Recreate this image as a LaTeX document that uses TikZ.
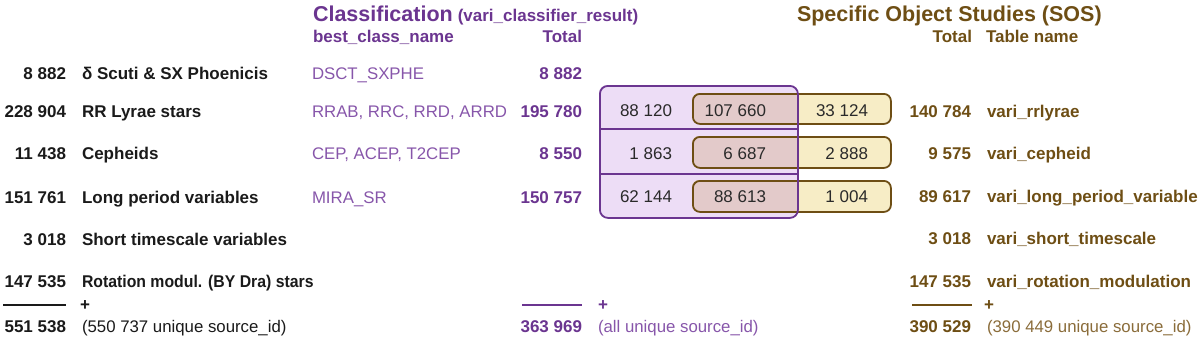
\documentclass[tikz,border=0pt]{standalone}
\usepackage{fontspec}
\usepackage{graphicx}
\setmainfont{Liberation Sans}
\definecolor{pur}{HTML}{6B3590}
\definecolor{purlt}{HTML}{8756AA}
\definecolor{brn}{HTML}{6E4E14}
\definecolor{brnlt}{HTML}{8A6C3A}
\definecolor{lav}{HTML}{EDDDF6}
\definecolor{yel}{HTML}{F7EDC6}
\definecolor{ovl}{HTML}{E3CACA}
\definecolor{ink}{HTML}{1A1A1A}
\definecolor{boxink}{HTML}{2A2A2A}
\tikzset{
  txt/.style={inner sep=0pt, outer sep=0pt, font=\fontsize{17}{20}\selectfont},
  numr/.style={txt, anchor=base east, font=\fontsize{17}{20}\selectfont\bfseries},
  labl/.style={txt, anchor=base west, font=\fontsize{17}{20}\selectfont\bfseries},
  reglabl/.style={txt, anchor=base west, font=\fontsize{16.8}{20}\selectfont},
  boxnum/.style={txt, anchor=base east, text=boxink},
  titlestyle/.style={txt, anchor=base west, font=\fontsize{21.5}{24}\selectfont\bfseries},
  sumline/.style={line width=1.6pt},
  plus/.style={txt, font=\fontsize{17}{20}\selectfont\bfseries},
  purbox/.style={draw=pur, line width=1.8pt, rounded corners=8pt},
  yelbox/.style={draw=brn, line width=1.8pt, rounded corners=7pt},
}
\begin{document}
\begin{tikzpicture}[x=1pt,y=-1pt]
\useasboundingbox (0,0) rectangle (1200,338);

% ---------- headers ----------
\node[titlestyle, text=pur] (ctitle) at (313,21) {Classification};
\node[txt, anchor=base west, text=pur, font=\fontsize{17}{20}\selectfont\bfseries] (csub) at ([xshift=5pt]ctitle.base east) {(vari\_classifier\_result)};
\node[labl, text=pur] (hbcn) at (313,42) {best\_class\_name};
\node[numr, text=pur] (hctot) at (582,42) {Total};
\node[titlestyle, text=brn] (stitle) at (797,21) {Specific Object Studies (SOS)};
\node[numr, text=brn] (hstot) at (972,42) {Total};
\node[labl, text=brn] (htab) at (986,42) {Table name};

% ---------- left column ----------
\node[numr, text=ink] (n1) at (66,79) {8 882};
\node[labl, text=ink] (l1) at (82,79) {δ Scuti \& SX Phoenicis};
\node[numr, text=ink] (n2) at (66,117) {228 904};
\node[labl, text=ink] (l2) at (82,117) {RR Lyrae stars};
\node[numr, text=ink] (n3) at (66,159) {11 438};
\node[labl, text=ink] (l3) at (82,159) {Cepheids};
\node[numr, text=ink] (n4) at (66,203) {151 761};
\node[labl, text=ink] (l4) at (82,203) {Long period variables};
\node[numr, text=ink] (n5) at (66,245) {3 018};
\node[labl, text=ink] (l5) at (82,245) {Short timescale variables};
\node[numr, text=ink] (n6) at (66,287) {147 535};
\node[labl, text=ink] (l6) at (82,287) {\scalebox{0.93}[1]{Rotation modul. (BY Dra) stars}};

% ---------- classification ----------
\node[reglabl, text=purlt] (c1) at (312,79) {DSCT\_SXPHE};
\node[numr, text=pur] (ct1) at (582,79) {8 882};
\node[reglabl, text=purlt] (c2) at (312,117) {RRAB, RRC, RRD, ARRD};
\node[numr, text=pur] (ct2) at (582,117) {195 780};
\node[reglabl, text=purlt] (c3) at (312,159) {CEP, ACEP, T2CEP};
\node[numr, text=pur] (ct3) at (582,159) {8 550};
\node[reglabl, text=purlt] (c4) at (312,203) {MIRA\_SR};
\node[numr, text=pur] (ct4) at (582,203) {150 757};

% ---------- SOS ----------
\node[numr, text=brn] (s2) at (971,117) {140 784};
\node[labl, text=brn] (t2) at (987,117) {vari\_rrlyrae};
\node[numr, text=brn] (s3) at (971,159) {9 575};
\node[labl, text=brn] (t3) at (987,159) {vari\_cepheid};
\node[numr, text=brn] (s4) at (971,202) {89 617};
\node[labl, text=brn] (t4) at (987,202) {vari\_long\_period\_variable};
\node[numr, text=brn] (s5) at (971,244) {3 018};
\node[labl, text=brn] (t5) at (987,244) {vari\_short\_timescale};
\node[numr, text=brn] (s6) at (971,287) {147 535};
\node[labl, text=brn] (t6) at (987,287) {vari\_rotation\_modulation};

% ---------- Venn-like boxes ----------
\fill[lav, rounded corners=8pt] (599,85) rectangle (797,217);
\foreach \ya/\yb in {93/123, 136/167, 180/211}{
  \fill[yel, rounded corners=7pt] (692,\ya) rectangle (890,\yb);
  \begin{scope}
    \clip[rounded corners=8pt] (599,85) rectangle (797,217);
    \fill[ovl, rounded corners=7pt] (692,\ya) rectangle (890,\yb);
  \end{scope}
}
\node[yelbox, minimum width=198pt, minimum height=30pt, anchor=north west] (y1) at (692,93) {};
\node[yelbox, minimum width=198pt, minimum height=31pt, anchor=north west] (y2) at (692,136) {};
\node[yelbox, minimum width=198pt, minimum height=31pt, anchor=north west] (y3) at (692,180) {};
\node[purbox, minimum width=198pt, minimum height=132pt, anchor=north west] (pbox) at (599,85) {};
\coordinate (d1l) at (599,129); \coordinate (d1r) at (797,129);
\coordinate (d2l) at (599,174); \coordinate (d2r) at (797,174);
\draw[pur, line width=1.8pt] (d1l) -- (d1r);
\draw[pur, line width=1.8pt] (d2l) -- (d2r);

\node[boxnum] (b11) at (672,116) {88 120};
\node[boxnum] (b12) at (766,116) {107 660};
\node[boxnum] (b13) at (868,116) {33 124};
\node[boxnum] (b21) at (672,159) {1 863};
\node[boxnum] (b22) at (766,159) {6 687};
\node[boxnum] (b23) at (868,159) {2 888};
\node[boxnum] (b31) at (672,202) {62 144};
\node[boxnum] (b32) at (766,202) {88 613};
\node[boxnum] (b33) at (868,202) {1 004};

% ---------- sums ----------
\coordinate (k1a) at (3,305); \coordinate (k1b) at (66,305);
\draw[sumline, ink] (k1a) -- (k1b);
\node[plus, text=ink] (p1) at (85,306) {+};
\coordinate (k2a) at (522,305); \coordinate (k2b) at (582,305);
\draw[sumline, pur] (k2a) -- (k2b);
\node[plus, text=pur] (p2) at (603,306) {+};
\coordinate (k3a) at (912,305); \coordinate (k3b) at (972,305);
\draw[sumline, brn] (k3a) -- (k3b);
\node[plus, text=brn] (p3) at (989,306) {+};

\node[numr, text=ink] (tot1) at (66,332) {551 538};
\node[reglabl, text=ink] (u1) at (82,332) {(550 737 unique source\_id)};
\node[numr, text=pur] (tot2) at (582,332) {363 969};
\node[reglabl, text=purlt] (u2) at (598,332) {(all unique source\_id)};
\node[numr, text=brn] (tot3) at (971,332) {390 529};
\node[reglabl, text=brnlt] (u3) at (987,332) {(390 449 unique source\_id)};
\end{tikzpicture}
\end{document}
